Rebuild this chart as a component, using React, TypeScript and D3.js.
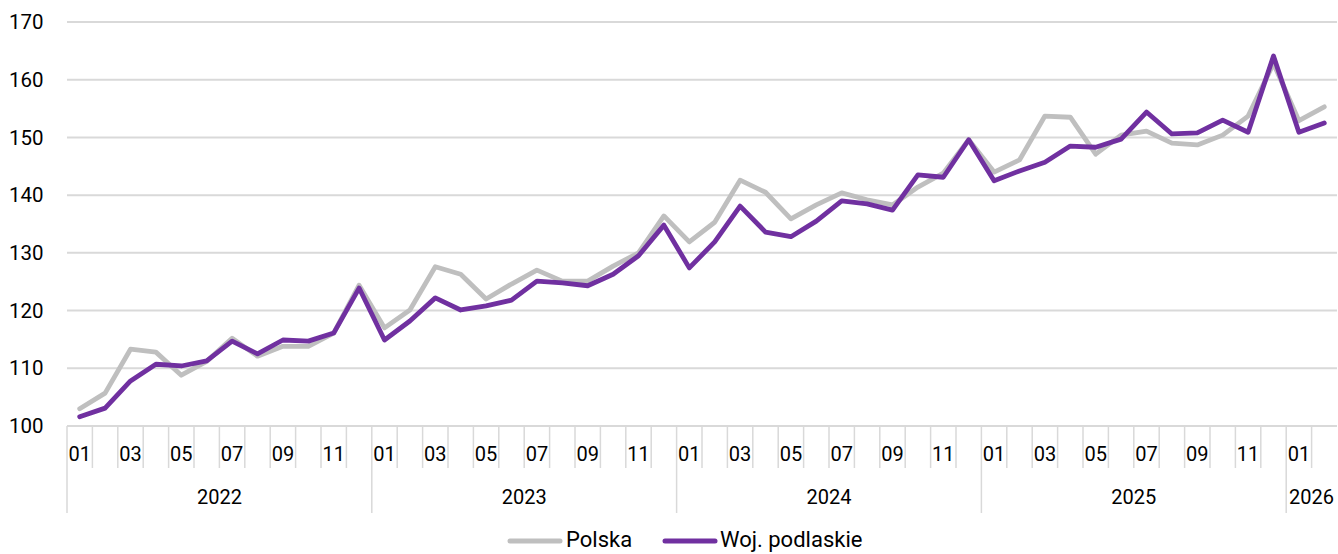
import React from "react";
import * as d3 from "d3";

const years = ["2022", "2023", "2024", "2025", "2026"];
const monthsPerYear = [12, 12, 12, 12, 2];
const yTicks = [100, 110, 120, 130, 140, 150, 160, 170];

const polska = [
  103.0, 105.7, 113.3, 112.8, 108.8, 111.2, 115.2, 112.1, 113.8, 113.8, 116.1, 124.4,
  117.0, 120.1, 127.6, 126.3, 122.0, 124.6, 127.0, 125.1, 125.1, 127.7, 130.0, 136.4,
  131.9, 135.3, 142.6, 140.5, 135.9, 138.3, 140.4, 139.2, 138.3, 141.4, 143.8, 149.6,
  144.0, 146.1, 153.7, 153.5, 147.1, 150.4, 151.1, 149.0, 148.7, 150.4, 153.7, 162.8,
  152.9, 155.3,
];
const podlaskie = [
  101.6, 103.1, 107.8, 110.7, 110.4, 111.3, 114.7, 112.5, 114.9, 114.7, 116.1, 123.9,
  114.9, 118.2, 122.2, 120.1, 120.8, 121.8, 125.1, 124.8, 124.3, 126.3, 129.5, 134.8,
  127.4, 131.9, 138.1, 133.6, 132.8, 135.5, 139.0, 138.5, 137.4, 143.5, 143.1, 149.6,
  142.5, 144.2, 145.7, 148.5, 148.3, 149.7, 154.4, 150.6, 150.8, 153.0, 150.9, 164.1,
  150.9, 152.5,
];

const seriesNames = ["Polska", "Woj. podlaskie"];
const seriesColors = ["#bfbfbf", "#7030a0"];

type Cat = { key: string; year: string; month: string };

export default function App() {
  const W = 1338;
  const H = 554;
  const left = 67;
  const right = 1337;
  const top = 22;
  const bottom = 426;
  const font = "Roboto, 'Noto Sans', sans-serif";

  const cats: Cat[] = [];
  years.forEach((y, yi) => {
    for (let m = 1; m <= monthsPerYear[yi]; m++) {
      const mm = m < 10 ? "0" + m : "" + m;
      cats.push({ key: y + "-" + mm, year: y, month: mm });
    }
  });

  const x = d3.scaleBand<string>().domain(cats.map((c) => c.key)).range([left, right]).padding(0);
  const y = d3.scaleLinear().domain([100, 170]).range([bottom, top]);
  const cx = (k: string) => (x(k) as number) + x.bandwidth() / 2;

  const line = d3
    .line<number>()
    .x((_, i) => cx(cats[i].key))
    .y((d) => y(d));

  const series = [polska, podlaskie];

  let idx = 0;
  const yearGroups = years.map((yr, yi) => {
    const start = idx;
    idx += monthsPerYear[yi];
    const end = idx;
    const x0 = x(cats[start].key) as number;
    const x1 = (x(cats[end - 1].key) as number) + x.bandwidth();
    return { yr, x0, x1 };
  });

  return (
    <svg
      width={W}
      height={H}
      style={{ position: "absolute", left: 0, top: 0, background: "#fff" }}
      fontFamily={font}
    >
      {yTicks.map((t) => (
        <g key={t}>
          <line x1={left} x2={right} y1={y(t)} y2={y(t)} stroke="#d9d9d9" strokeWidth={2} />
          <text x={9} y={y(t)} dy="0.35em" fontSize={20.5} fill="#000">
            {t}
          </text>
        </g>
      ))}
      {cats.map((c, i) => {
        const xb = x(c.key) as number;
        const isYearStart = c.month === "01";
        return (
          <g key={c.key}>
            {i > 0 && !isYearStart && (
              <line x1={xb} x2={xb} y1={bottom} y2={468} stroke="#d9d9d9" strokeWidth={1.5} />
            )}
            {parseInt(c.month) % 2 === 1 && (
              <text x={cx(c.key)} y={454} dy="0.35em" textAnchor="middle" fontSize={20} fill="#000">
                {c.month}
              </text>
            )}
          </g>
        );
      })}
      {yearGroups.map((g) => (
        <g key={g.yr}>
          <line x1={g.x0} x2={g.x0} y1={bottom} y2={513} stroke="#d9d9d9" strokeWidth={1.5} />
          <text x={(g.x0 + g.x1) / 2} y={497} dy="0.35em" textAnchor="middle" fontSize={20} fill="#000">
            {g.yr}
          </text>
        </g>
      ))}
      {series.map((s, i) => (
        <path
          key={i}
          d={line(s) as string}
          fill="none"
          stroke={seriesColors[i]}
          strokeWidth={4.8}
          strokeLinejoin="round"
          strokeLinecap="round"
        />
      ))}
      <g>
        <line x1={510} x2={560} y1={541} y2={541} stroke={seriesColors[0]} strokeWidth={5} strokeLinecap="round" />
        <text x={566} y={539} dy="0.35em" fontSize={22} fill="#000">
          {seriesNames[0]}
        </text>
        <line x1={665} x2={715} y1={541} y2={541} stroke={seriesColors[1]} strokeWidth={5} strokeLinecap="round" />
        <text x={720} y={539} dy="0.35em" fontSize={22} fill="#000">
          {seriesNames[1]}
        </text>
      </g>
    </svg>
  );
}
